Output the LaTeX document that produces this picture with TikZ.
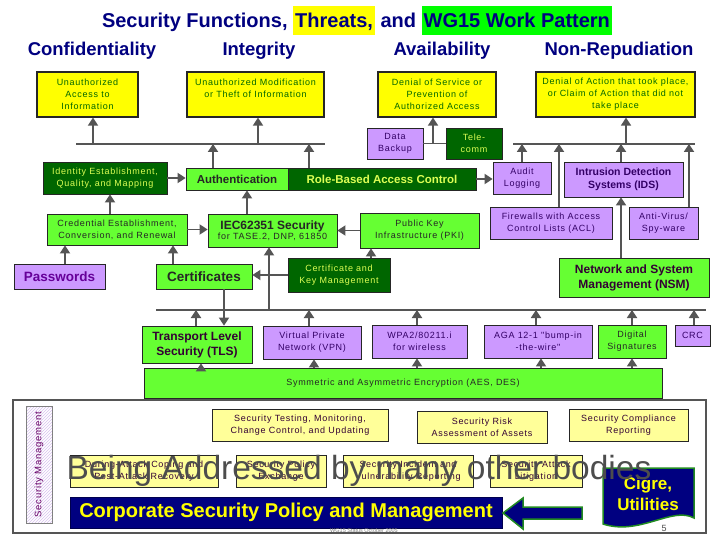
\documentclass[tikz,border=0pt]{standalone}
\usepackage{fontspec}
\setmainfont{Liberation Sans}
\newfontfamily\spc[LetterSpace=8]{Liberation Sans}
\usetikzlibrary{arrows.meta,patterns,calc}
\definecolor{navy}{HTML}{000080}
\definecolor{ylw}{HTML}{FFFF00}
\definecolor{hlgreen}{HTML}{00FF00}
\definecolor{lgreen}{HTML}{66FF33}
\definecolor{dgreen}{HTML}{006600}
\definecolor{purp}{HTML}{CC99FF}
\definecolor{lyellow}{HTML}{FFFF99}
\definecolor{agray}{HTML}{555555}
\definecolor{dgtext}{HTML}{006600}
\definecolor{gtext}{HTML}{DDFF55}
\definecolor{ptext}{HTML}{330066}
\definecolor{pwtext}{HTML}{660099}
\definecolor{btext}{HTML}{330033}
\definecolor{smtext}{HTML}{660066}
\definecolor{framegray}{HTML}{555555}
\definecolor{cigreline}{HTML}{228B22}
\definecolor{overgray}{HTML}{4D4D4D}
\definecolor{hatch}{HTML}{D9C2F0}
\newcommand{\hlb}[2]{{\setlength{\fboxsep}{0pt}\colorbox{#1}{\rule[-7pt]{0pt}{29pt}\kern2pt#2\kern2pt}}}
\tikzset{
 bx/.style={draw=black!85, line width=0.8pt, inner sep=0pt, align=center},
 thr/.style={bx, fill=ylw, text=dgtext, font=\spc\fontsize{9}{12}\selectfont, line width=1.3pt},
 lg/.style={bx, fill=lgreen, text=black!85},
 dg/.style={bx, fill=dgreen, text=gtext},
 pu/.style={bx, fill=purp, text=ptext},
 sm/.style={font=\spc\fontsize{9}{12}\selectfont},
 ly/.style={bx, fill=lyellow, text=btext, font=\spc\fontsize{9}{12}\selectfont},
 hdr/.style={anchor=base, text=navy, font=\bfseries\fontsize{18.5}{22}\selectfont},
 arr/.style={draw=agray, line width=1.8pt, -{Triangle[width=10pt,length=8pt]}},
 ln/.style={draw=agray, line width=1.8pt},
}
\begin{document}
\begin{tikzpicture}[x=1pt,y=-1pt]
\useasboundingbox (0,0) rectangle (720,540);
\fill[white] (0,0) rectangle (720,540);
% title and headers
\node[anchor=base, text=navy, font=\bfseries\fontsize{20}{24}\selectfont] (title) at (357,28) {Security Functions, \hlb{ylw}{Threats,} and \hlb{hlgreen}{WG15 Work Pattern}};
\node[hdr] (conf) at (92,56) {Confidentiality};
\node[hdr] (integ) at (259,56) {Integrity};
\node[hdr] (avail) at (442,56) {Availability};
\node[hdr] (nonrep) at (619,56) {Non-Repudiation};
% threats
\node[thr, minimum width=101pt, minimum height=45pt] (ua) at (87.5,94.5) {Unauthorized\\Access to\\Information};
\node[thr, minimum width=137pt, minimum height=45pt] (um) at (255.5,94.5) {Unauthorized Modification\\or Theft of Information\\\mbox{}};
\node[thr, minimum width=118pt, minimum height=45pt] (dos) at (437,94.5) {Denial of Service or\\Prevention of\\Authorized Access};
\node[thr, minimum width=159pt, minimum height=45pt] (doa) at (615.5,94.5) {Denial of Action that took place,\\or Claim of Action that did not\\take place};
% functions
\node[pu, sm, minimum width=56pt, minimum height=31pt] (backup) at (395,143.5) {Data\\Backup};
\node[dg, sm, minimum width=56pt, minimum height=31pt] (telecomm) at (474,143.5) {Tele-\\comm};
\node[dg, sm, minimum width=124pt, minimum height=32pt] (ident) at (105,178) {Identity Establishment,\\Quality, and Mapping};
\node[lg, font=\bfseries\fontsize{11.5}{14}\selectfont, minimum width=102pt, minimum height=22pt] (auth) at (237,179) {Authentication};
\node[dg, font=\bfseries\fontsize{11.5}{14}\selectfont, minimum width=188pt, minimum height=22pt] (rbac) at (382,179) {Role-Based Access Control};
\node[pu, sm, minimum width=58pt, minimum height=32pt] (audit) at (522,178) {Audit\\Logging};
\node[pu, font=\bfseries\fontsize{10.5}{13}\selectfont, minimum width=119pt, minimum height=35pt] (ids) at (623.5,179.5) {Intrusion Detection\\Systems (IDS)};
\node[lg, sm, minimum width=140pt, minimum height=31pt] (cred) at (117,229.5) {Credential Establishment,\\Conversion, and Renewal};
\node[lg, minimum width=129pt, minimum height=33pt] (iec) at (272.5,230.5) {{\bfseries\fontsize{12}{14}\selectfont IEC62351 Security}\\[-2pt]{\spc\fontsize{9}{11}\selectfont for TASE.2, DNP, 61850}};
\node[lg, sm, minimum width=119pt, minimum height=35pt] (pki) at (419.5,230.5) {Public Key\\Infrastructure (PKI)};
\node[pu, sm, minimum width=122pt, minimum height=32pt] (fw) at (551,223) {Firewalls with Access\\Control Lists (ACL)};
\node[pu, sm, minimum width=69pt, minimum height=32pt] (av) at (663.5,223) {Anti-Virus/\\Spy-ware};
\node[pu, text=pwtext, font=\bfseries\fontsize{13.5}{16}\selectfont, minimum width=91pt, minimum height=25pt] (pw) at (59.5,276.5) {Passwords};
\node[lg, font=\bfseries\fontsize{13.5}{16}\selectfont, minimum width=96pt, minimum height=25pt] (cert) at (204,276.5) {Certificates};
\node[dg, sm, minimum width=102pt, minimum height=34pt] (ckm) at (339,275) {Certificate and\\Key Management};
\node[lg, text=btext, font=\bfseries\fontsize{12}{15}\selectfont, minimum width=150pt, minimum height=39pt] (nsm) at (634,277.5) {Network and System\\Management (NSM)};
\node[lg, text=btext, font=\bfseries\fontsize{12}{15}\selectfont, minimum width=110pt, minimum height=37pt] (tls) at (197,344.5) {Transport Level\\Security (TLS)};
\node[pu, sm, minimum width=98pt, minimum height=33pt] (vpn) at (312,342.5) {Virtual Private\\Network (VPN)};
\node[pu, sm, minimum width=95pt, minimum height=33pt] (wpa) at (419.5,341.5) {WPA2/80211.i\\for wireless};
\node[pu, sm, minimum width=108pt, minimum height=33pt] (aga) at (538,341.5) {AGA 12-1 "bump-in\\-the-wire"};
\node[lg, sm, minimum width=68pt, minimum height=33pt] (dsig) at (632,341.5) {Digital\\Signatures};
\node[pu, sm, minimum width=35pt, minimum height=21pt] (crc) at (692.5,335.5) {CRC};
\node[lg, sm, minimum width=518pt, minimum height=30pt] (sym) at (403,383) {Symmetric and Asymmetric Encryption (AES, DES)};
% bus 1
\coordinate (b1a) at (76,144); \coordinate (b1b) at (325,144);
\draw[ln] (b1a) -- (b1b);
\coordinate (p1) at (93,144); \draw[arr] (p1) -- (ua.south -| p1);
\coordinate (p2) at (258,144); \draw[arr] (p2) -- (um.south -| p2);
\coordinate (p3) at (213,144); \draw[arr] (auth.north -| p3) -- (p3);
\coordinate (p4) at (309,144); \draw[arr] (rbac.north -| p4) -- (p4);
% availability
\draw[ln] (backup.east) -- (telecomm.west);
\coordinate (p5) at (433,143.5); \draw[arr] (p5) -- (dos.south -| p5);
% bus 2
\coordinate (b2a) at (513,144); \coordinate (b2b) at (695,144);
\draw[ln] (b2a) -- (b2b);
\coordinate (p6) at (626,144); \draw[arr] (p6) -- (doa.south -| p6);
\coordinate (p7) at (522,144); \draw[arr] (audit.north -| p7) -- (p7);
\coordinate (p8) at (559,144); \draw[arr] (fw.north -| p8) -- (p8);
\coordinate (p9) at (621,144); \draw[arr] (ids.north -| p9) -- (p9);
\coordinate (p10) at (689,144); \draw[arr] (av.north -| p10) -- (p10);
% horizontal
\draw[arr] (ident.east) -- (ident.east -| auth.west);
\draw[arr] (rbac.east) -- (rbac.east -| audit.west);
\draw[arr] (cred.east) -- (cred.east -| iec.west);
\draw[arr] (pki.west) -- (pki.west -| iec.east);
\draw[arr] (ckm.west) -- (ckm.west -| cert.east);
% vertical
\coordinate (q1) at (110,200); \draw[arr] (cred.north -| q1) -- (ident.south -| q1);
\coordinate (q2) at (247,200); \draw[arr] (iec.north -| q2) -- (auth.south -| q2);
\coordinate (q3) at (371,250); \draw[arr] (ckm.north -| q3) -- (pki.south -| q3);
\draw[arr] (nsm.north -| p9) -- (ids.south -| p9);
\coordinate (q4) at (65,250); \draw[arr] (pw.north -| q4) -- (cred.south -| q4);
\coordinate (q5) at (173,250); \draw[arr] (cert.north -| q5) -- (cred.south -| q5);
\coordinate (q6) at (224,300); \draw[arr] (cert.south -| q6) -- (tls.north -| q6);
% bus 3
\coordinate (b3a) at (156,310); \coordinate (b3b) at (706,310);
\draw[ln] (b3a) -- (b3b);
\coordinate (r0) at (269,310); \draw[arr] (r0) -- (iec.south -| r0);
\coordinate (r1) at (196,310); \draw[arr] (tls.north -| r1) -- (r1);
\coordinate (r2) at (309,310); \draw[arr] (vpn.north -| r2) -- (r2);
\coordinate (r3) at (417,310); \draw[arr] (wpa.north -| r3) -- (r3);
\coordinate (r4) at (536,310); \draw[arr] (aga.north -| r4) -- (r4);
\coordinate (r5) at (632,310); \draw[arr] (dsig.north -| r5) -- (r5);
\coordinate (r6) at (694,310); \draw[arr] (crc.north -| r6) -- (r6);
\coordinate (s1) at (201,380); \draw[arr] (sym.north -| s1) -- (tls.south -| s1);
\coordinate (s2) at (314,380); \draw[arr] (sym.north -| s2) -- (vpn.south -| s2);
\coordinate (s3) at (417,380); \draw[arr] (sym.north -| s3) -- (wpa.south -| s3);
\coordinate (s4) at (541,380); \draw[arr] (sym.north -| s4) -- (aga.south -| s4);
\coordinate (s5) at (632,380); \draw[arr] (sym.north -| s5) -- (dsig.south -| s5);
% bottom panel
\node[draw=framegray, line width=2pt, fill=white, minimum width=693pt, minimum height=133pt, inner sep=0pt] (panel) at (359.5,466.5) {};
\node[draw=gray, line width=0.8pt, pattern=north east lines, pattern color=hatch, minimum width=117pt, minimum height=26pt, rotate=90, text=smtext, font=\spc\fontsize{9.5}{11}\selectfont, inner sep=0pt] (secm) at (39,464.5) {Security Management};
\node[ly, minimum width=176pt, minimum height=32pt] (stest) at (300,425) {Security Testing, Monitoring,\\Change Control, and Updating};
\node[ly, minimum width=130pt, minimum height=32pt] (srisk) at (482,427) {Security Risk\\Assessment of Assets};
\node[ly, minimum width=119pt, minimum height=32pt] (scomp) at (628.5,425) {Security Compliance\\Reporting};
\node[ly, minimum width=148pt, minimum height=32pt] (during) at (144,471) {During-Attack Coping and\\Post-Attack Recovery};
\node[ly, minimum width=90pt, minimum height=32pt] (spol) at (281,471) {Security Policy\\Exchange};
\node[ly, minimum width=130pt, minimum height=32pt] (sinc) at (408,471) {Security Incident and\\Vulnerability Reporting};
\node[ly, minimum width=92pt, minimum height=32pt] (satt) at (536,471) {Security Attack\\Litigation};
\node[fill=navy, draw=navy!60!black, line width=0.8pt, inner sep=0pt, minimum width=432pt, minimum height=31pt, text=ylw, font=\bfseries\fontsize{20}{24}\selectfont] (corp) at (286,512.5) {Corporate Security Policy and Management};
\path[fill=navy, draw=cigreline, line width=1.5pt] (503,513) -- (523,498) -- (523,507) -- (582,507) -- (582,519) -- (523,519) -- (523,529) -- cycle;
\path[fill=navy, draw=cigreline, line width=1.5pt] (603,468) -- (694,468) -- (694,518) .. controls (672,506) and (640,536) .. (603,524) -- cycle;
\node[text=ylw, align=center, font=\bfseries\fontsize{17}{21}\selectfont] (cigre) at (648,494) {Cigre,\\Utilities};
\node[anchor=base, text=overgray, font=\fontsize{33.5}{36}\selectfont] (over) at (359,479) {Being Addressed by many other bodies};
\node[text=gray, font=\fontsize{5.5}{6}\selectfont] (foot) at (364,531) {WG15 Status October 2005};
\node[text=black!70, font=\fontsize{9}{10}\selectfont] (pg) at (664,528) {5};
\end{tikzpicture}
\end{document}
